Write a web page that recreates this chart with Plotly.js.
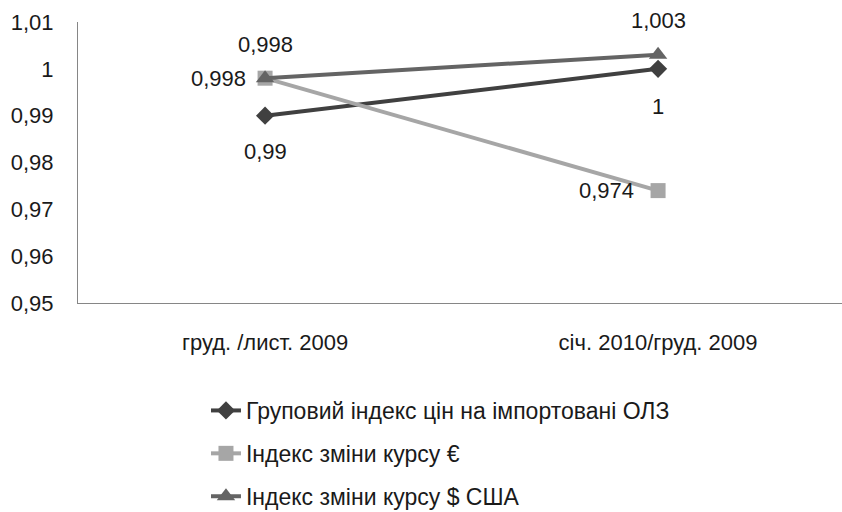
<!DOCTYPE html>
<html><head><meta charset="utf-8">
<script src="https://cdn.plot.ly/plotly-3.0.1.min.js"></script>
<style>body{margin:0;background:#fff}#c{width:842px;height:512px}</style>
</head><body><div id="c"></div>
<script>
var categories = ["груд. /лист. 2009", "січ. 2010/груд. 2009"];
var seriesNames = ["Груповий індекс цін на імпортовані ОЛЗ", "Індекс зміни курсу €", "Індекс зміни курсу $ США"];
var groupIndex = [0.99, 1];
var euroIndex = [0.998, 0.974];
var usdIndex = [0.998, 1.003];
var yTicks = [0.95, 0.96, 0.97, 0.98, 0.99, 1, 1.01];

var colors = ["#404040", "#a6a6a6", "#646464"];
var symbols = ["diamond", "square", "triangle-up"];
var sizes = [14, 15, 16];
var allSeries = [groupIndex, euroIndex, usdIndex];
// label placement per series per point: [xshift, yshift, xanchor]
var labelShift = [
  [[0, -36, "center"], [0, -38, "center"]],
  [[-17, 0, "right"], [-22, 0, "right"]],
  [[0, 34, "center"], [0, 34, "center"]]
];
var FONT = "Liberation Sans, Arial, sans-serif";

var xs = [0, 1];
var traces = allSeries.map(function(vals, i){
  return {
    x: xs, y: vals, type: "scatter", mode: "lines+markers",
    name: seriesNames[i], legendgroup: "g"+i,
    line: {color: colors[i], width: 4},
    marker: {color: colors[i], symbol: symbols[i], size: sizes[i]},
    hoverinfo: "skip"
  };
});
var annotations = [];
allSeries.forEach(function(vals, i){
  vals.forEach(function(v, j){
    annotations.push({
      x: xs[j], y: v, xref: "x", yref: "y",
      text: String(v).replace(".", ","), showarrow: false,
      xanchor: labelShift[i][j][2],
      xshift: labelShift[i][j][0], yshift: labelShift[i][j][1],
      font: {family: FONT, size: 22, color: "#1a1a1a"}
    });
  });
});

var layout = {
  width: 842, height: 512,
  margin: {l: 78, r: 0, t: 22, b: 209, autoexpand: false},
  paper_bgcolor: "#fff", plot_bgcolor: "#fff",
  separators: ", ",
  showlegend: true,
  font: {family: FONT, size: 22, color: "#1a1a1a"},
  xaxis: {
    range: [-0.476, 1.468], tickvals: xs, ticktext: categories,
    showgrid: false, zeroline: false, showline: true, linecolor: "#868686", linewidth: 1,
    ticks: "", ticklabelstandoff: 20, fixedrange: true, automargin: false,
    tickfont: {family: FONT, size: 22, color: "#1a1a1a"}
  },
  yaxis: {
    range: [0.95, 1.01], tickvals: yTicks,
    showgrid: false, zeroline: false, showline: true, linecolor: "#868686", linewidth: 1,
    ticks: "", ticklabelstandoff: 19, fixedrange: true, automargin: false,
    tickfont: {family: FONT, size: 22, color: "#1a1a1a"}
  },
  legend: {
    orientation: "v", x: 0.1675, xanchor: "left", y: -0.306, yanchor: "top",
    traceorder: "grouped", tracegroupgap: 10,
    font: {family: FONT, size: 23, color: "#1a1a1a"}, itemwidth: 30
  },
  annotations: annotations
};
Plotly.newPlot("c", traces, layout, {staticPlot: true, displayModeBar: false});
</script></body></html>
